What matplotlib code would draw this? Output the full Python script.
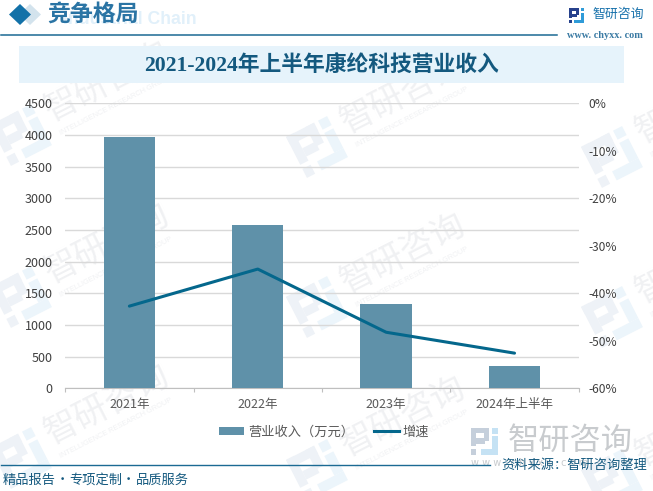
import numpy as np
import matplotlib

matplotlib.use("Agg")
import matplotlib.pyplot as plt
from matplotlib.patches import Rectangle, Polygon
from matplotlib.lines import Line2D

W, H = 653, 491
CJK = ["Noto Sans CJK SC", "DejaVu Sans"]
SERIF = ["Liberation Serif", "Noto Sans CJK SC"]

# ---- data ------------------------------------------------------------------
categories = ["2021年", "2022年", "2023年", "2024年上半年"]
revenue = [3968, 2578, 1331, 352]
growth = [-42.7, -34.9, -48.2, -52.6]
left_ticks = [0, 500, 1000, 1500, 2000, 2500, 3000, 3500, 4000, 4500]
right_ticks = [0, -10, -20, -30, -40, -50, -60]

# ---- palette ---------------------------------------------------------------
BAR = "#5f91a9"
LINE = "#04678c"
RULE = "#1b6a93"
NAVY = "#14597f"
PANEL = "#e6f3fb"
GRID = "#d9d9d9"
TICK = "#595959"

plt.rcParams["font.family"] = CJK
fig = plt.figure(figsize=(W / 100, H / 100), dpi=100)

# page layer in pixel coordinates, +y down
bg = fig.add_axes([0, 0, 1, 1], zorder=0)
bg.set_xlim(0, W)
bg.set_ylim(H, 0)
bg.axis("off")

LOGO_A = [(0, 0, 3.4, 1), (0, 0, 1, 3.4), (2.4, 0, 1, 2.4), (1, 1.9, 1.6, 1), (0, 3.9, 1, 1.1)]
LOGO_B = [(3.9, 0, 1.1, 1.1), (3.9, 1.5, 1.1, 2.4), (1.8, 3.9, 3.2, 1.1)]


def logo(ax, cx, cy, s, c1, c2, angle=0.0, z=1):
    """Square company mark centred on cx, cy, turned counter-clockwise by angle."""
    u = s / 5.0
    a = np.radians(angle)
    for pieces, col in ((LOGO_A, c1), (LOGO_B, c2)):
        for (px, py, pw, ph) in pieces:
            pts = []
            for qx, qy in [(px, py), (px + pw, py), (px + pw, py + ph), (px, py + ph)]:
                dx, dy = (qx - 2.5) * u, (qy - 2.5) * u
                pts.append((cx + dx * np.cos(a) + dy * np.sin(a),
                            cy - dx * np.sin(a) + dy * np.cos(a)))
            ax.add_patch(Polygon(pts, facecolor=col, edgecolor="none", zorder=z))


def watermark(ax, x, y):
    """One tiled mark: logo at x, y with the name up and to its right."""
    logo(ax, x, y, 46, "#eef2f7", "#ecf5fb", angle=27)
    ax.text(x + 86, y - 52, "智研咨询", fontsize=24.5, color="#f0f1f3", rotation=27,
            ha="center", va="center", rotation_mode="anchor", zorder=1, clip_on=True)
    ax.text(x + 95, y - 30, "INTELLIGENCE RESEARCH GROUP", fontsize=5.3, color="#f0f1f3",
            rotation=27, ha="center", va="center", rotation_mode="anchor",
            family="Liberation Sans", zorder=1, clip_on=True)


for wx, wy in [(21, 135), (317, 147), (612, 157),
               (21, 297), (317, 307), (612, 317),
               (21, 458), (317, 470), (612, 480)]:
    watermark(bg, wx, wy)

# header
bg.text(197, 19.5, "Industrial Chain", fontsize=12.7, fontweight="bold", color="#e1f0fa",
        ha="right", va="center", family="Liberation Sans", zorder=2)
bg.add_patch(Polygon([(19, 14.5), (30, 4), (41, 14.5), (30, 25)], facecolor="#d3e3ed", zorder=2))
bg.add_patch(Polygon([(9, 14.5), (20, 4), (31, 14.5), (20, 25)], facecolor="#1271a8", zorder=3))
bg.text(47.5, 15, "竞争格局", fontsize=16.5, color="#2a74a4", ha="left", va="center",
        family=SERIF, fontweight="bold", zorder=3)
bg.plot([1, 557], [35, 35], color=RULE, lw=1.1, zorder=3)
logo(bg, 576.5, 15.5, 15, "#27418c", "#2f9bd8", z=3)
bg.text(592, 14.5, "智研咨询", fontsize=9.3, color="#1771ab", ha="left", va="center", zorder=3)
bg.text(567, 35, "www. chyxx. com", fontsize=7.4, color="#3a7aa3", ha="left", va="center",
        family="Liberation Serif", fontweight="bold", zorder=3)

# title band
bg.add_patch(Rectangle((19, 46), 605, 37, facecolor=PANEL, edgecolor="none", zorder=2))
bg.text(321.5, 66, "2021-2024年上半年康纶科技营业收入", fontsize=15.7, fontweight="bold",
        color=NAVY, ha="center", va="center", family=SERIF, zorder=3)

# footer
logo(bg, 484.5, 441.5, 27, "#c5cfdb", "#c5e2f4", z=2)
bg.text(508, 441, "智研咨询", fontsize=22.5, color="#c8cbce", ha="left", va="center", zorder=2)
bg.text(471, 463, "w w w . c h y x x . c o m", fontsize=7, color="#c8cbce", ha="left",
        va="center", family="DejaVu Sans", zorder=2)
bg.plot([1, 490], [464.5, 464.5], color=RULE, lw=1.0, zorder=3)
bg.text(501, 465, "资料来源：智研咨询整理", fontsize=9.5, color=NAVY, ha="left", va="center", zorder=3)
for fx, part in [(2.5, "精品报告"), (69.5, "专项定制"), (135.5, "品质服务")]:
    bg.text(fx, 480, part, fontsize=9.5, color=NAVY, ha="left", va="center", zorder=3)
for fx in (62, 128):
    bg.text(fx, 480, "·", fontsize=9.5, color=NAVY, ha="center", va="center", zorder=3)

# chart, axes box taken from the plot area in pixels
left, right, top, bottom = 65.2, 578.7, 103.3, 388.3
ax = fig.add_axes([left / W, 1 - bottom / H, (right - left) / W, (bottom - top) / H], zorder=2)
ax.patch.set_alpha(0)
xs = list(range(len(categories)))
ax.bar(xs, revenue, width=0.4, color=BAR, zorder=3)
ax.set_xlim(-0.5, 3.5)
ax.set_ylim(0, 4500)
ax.set_yticks(left_ticks)
ax.set_xticks(xs)
ax.set_xticklabels(categories)
ax.set_xticks([-0.5, 0.5, 1.5, 2.5, 3.5], minor=True)
ax.grid(axis="y", color=GRID, lw=1.0, zorder=0)
ax.set_axisbelow(True)
for side in ("top", "left", "right"):
    ax.spines[side].set_visible(False)
ax.spines["bottom"].set_color("#bfbfbf")
ax.tick_params(axis="y", length=0, labelsize=9, labelcolor="#404040", pad=9)
ax.tick_params(axis="x", which="major", length=0, labelsize=9, labelcolor=TICK, pad=7)
ax.tick_params(axis="x", which="minor", length=3, color="#bfbfbf", width=0.8)

ax2 = ax.twinx()
ax2.patch.set_alpha(0)
ax2.plot(xs, growth, color=LINE, lw=2.2, solid_capstyle="round", zorder=4)
ax2.set_ylim(-60, 0)
ax2.set_yticks(right_ticks)
ax2.set_yticklabels([f"{v}%" for v in right_ticks])
for side in ("top", "left", "right", "bottom"):
    ax2.spines[side].set_visible(False)
ax2.tick_params(axis="y", length=0, labelsize=8.6, labelcolor="#404040", pad=7)

handles = [Rectangle((0, 0), 1, 1, facecolor=BAR), Line2D([0], [0], color=LINE, lw=2.2)]
fig.legend(handles, ["营业收入（万元）", "增速"], loc="center", ncol=2, frameon=False,
           bbox_to_anchor=(324 / W, 1 - 432 / H), fontsize=9.5, labelcolor=TICK,
           handlelength=1.9, handleheight=0.55, columnspacing=1.5, handletextpad=0.3)

fig.savefig("out.png", dpi=100)
